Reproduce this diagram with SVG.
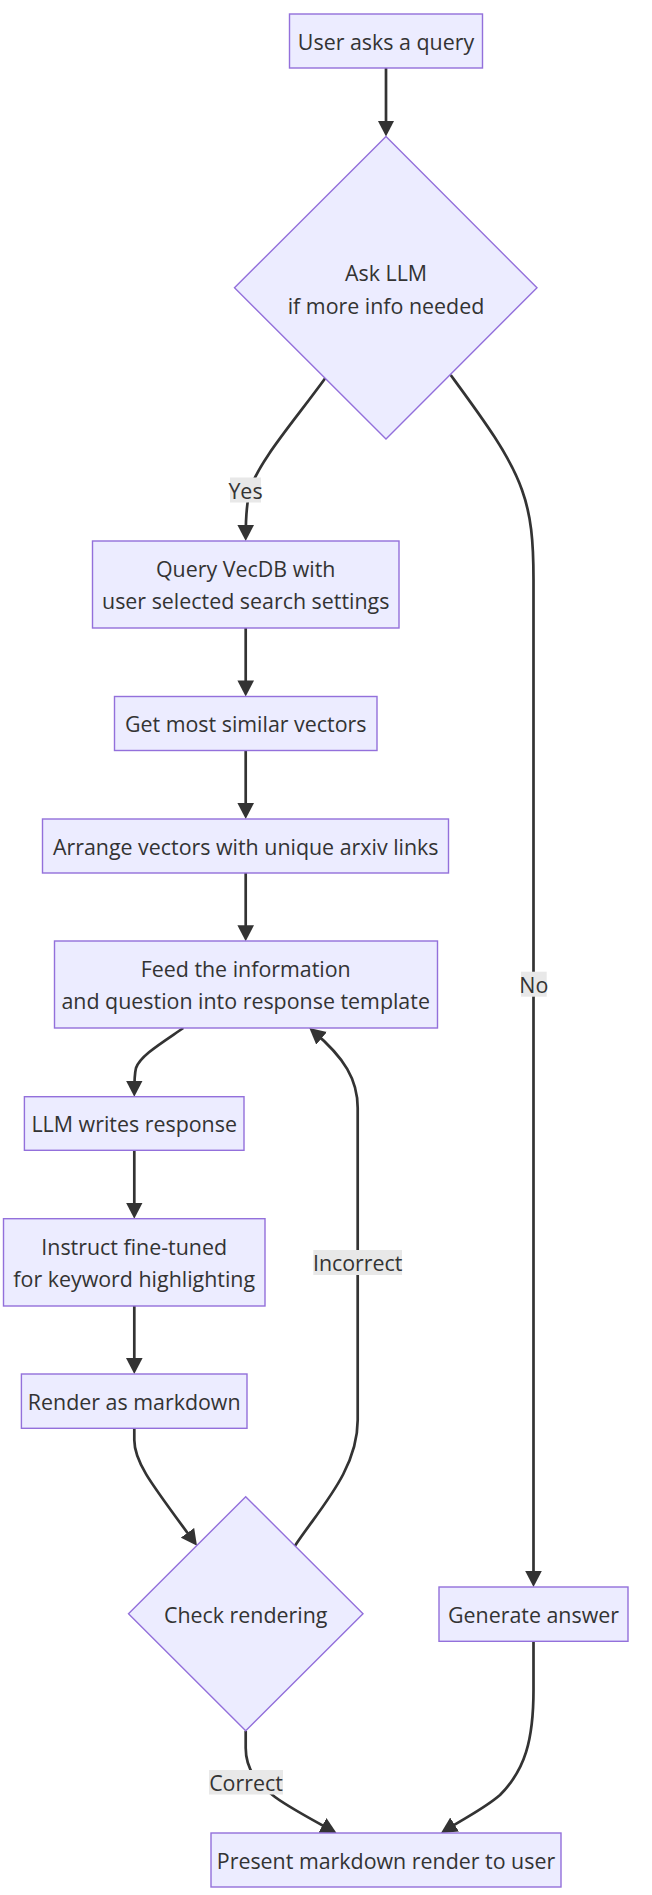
<svg xmlns="http://www.w3.org/2000/svg" width="652" height="1895" viewBox="0 0 652 1895">
<defs>
<marker id="arr" markerUnits="userSpaceOnUse" markerWidth="17" markerHeight="17" refX="12" refY="8.3" orient="auto">
<path d="M0,0 L16,8.3 L0,16.6 z" fill="#333333"/>
</marker>
<style>
.node rect, .node polygon { fill: #ECECFF; stroke: #9370DB; stroke-width: 1.4; }
.node text, .lbl text { font-family: "Open Sans", "Noto Sans", "Liberation Sans", sans-serif; font-size: 21.4px; fill: #333333; text-anchor: middle; dominant-baseline: central; }
.edges path { fill: none; stroke: #333333; stroke-width: 2.7; marker-end: url(#arr); }
.lbl rect { fill: #E8E8E8; }
</style>
</defs>
<rect width="652" height="1895" fill="#ffffff"/>
<g id="connectors" class="edges">
<path d="M386,68 L386,132.5"/>
<path d="M325.2,378.3 C295,420 258,462 250,490 C246,505 245.7,520 245.7,537"/>
<path d="M245.7,628 L245.7,692.4"/>
<path d="M245.7,750.5 L245.7,815"/>
<path d="M245.7,873 L245.7,937.3"/>
<path d="M183.3,1028 C160,1044 140,1056 136,1068 C134.5,1074 134.3,1082 134.3,1092.7"/>
<path d="M134.3,1150.3 L134.3,1214.7"/>
<path d="M134.3,1306 L134.3,1370"/>
<path d="M134.3,1428.3 L134.3,1440 C134.3,1462 150,1482 194.6,1542.5"/>
<path d="M295,1545.7 C320,1508 357.7,1470 357.7,1420 L357.7,1108 C357.7,1080 345,1058 312.4,1030.6"/>
<path d="M245.7,1730.7 L245.7,1748 C245.7,1770 258,1784 275,1797 C290,1808 315.4,1821.5 333,1831.1"/>
<path d="M450.7,375 C480,415 510,455 522,490 C531,515 533.5,540 533.5,580 L533.5,1583"/>
<path d="M533.5,1641.3 L533.5,1690 C533.5,1740 525,1770 500,1795 C485,1808 470,1815 444.4,1830.9"/>
</g>
<g id="edge-labels">
<g class="lbl" id="lbl-yes"><rect x="230" y="477.5" width="31" height="25"/><text x="245.5" y="490">Yes</text></g>
<g class="lbl" id="lbl-no"><rect x="521" y="971.7" width="25.7" height="25"/><text x="533.8" y="984">No</text></g>
<g class="lbl" id="lbl-incorrect"><rect x="313.3" y="1250" width="88.7" height="25"/><text x="357.7" y="1262.5">Incorrect</text></g>
<g class="lbl" id="lbl-correct"><rect x="209" y="1770" width="74" height="24.5"/><text x="246" y="1782">Correct</text></g>
</g>
<g id="user" class="node"><rect x="289.5" y="14" width="193" height="54"/><text x="386" y="41">User asks a query</text></g>
<g id="ask" class="node"><polygon points="386,136.5 537,287.8 386,439 234.5,287.8"/><text x="386" y="272.6">Ask LLM</text><text x="386" y="305">if more info needed</text></g>
<g id="query" class="node"><rect x="92.5" y="541" width="306.5" height="87"/><text x="245.7" y="568.4">Query VecDB with</text><text x="245.7" y="600.8">user selected search settings</text></g>
<g id="get" class="node"><rect x="114.5" y="696.5" width="262.5" height="54"/><text x="245.7" y="723.5">Get most similar vectors</text></g>
<g id="arrange" class="node"><rect x="42.5" y="819" width="406" height="54"/><text x="245.7" y="846">Arrange vectors with unique arxiv links</text></g>
<g id="feed" class="node"><rect x="54.5" y="941" width="383" height="87"/><text x="245.7" y="968.3">Feed the information</text><text x="245.7" y="1000.7">and question into response template</text></g>
<g id="llm" class="node"><rect x="24.4" y="1096.7" width="219.6" height="53.6"/><text x="134.2" y="1123.5">LLM writes response</text></g>
<g id="instruct" class="node"><rect x="3.5" y="1218.7" width="261.5" height="87.3"/><text x="134.2" y="1246.2">Instruct fine-tuned</text><text x="134.2" y="1278.6">for keyword highlighting</text></g>
<g id="render" class="node"><rect x="21.4" y="1374" width="225.6" height="54.3"/><text x="134.2" y="1401">Render as markdown</text></g>
<g id="check" class="node"><polygon points="245.7,1496.7 363,1613.7 245.7,1730.7 128.5,1613.7"/><text x="245.7" y="1614.5">Check rendering</text></g>
<g id="generate" class="node"><rect x="439" y="1587" width="189" height="54.3"/><text x="533.5" y="1614">Generate answer</text></g>
<g id="present" class="node"><rect x="211" y="1833" width="350" height="54"/><text x="386" y="1860">Present markdown render to user</text></g>
</svg>
